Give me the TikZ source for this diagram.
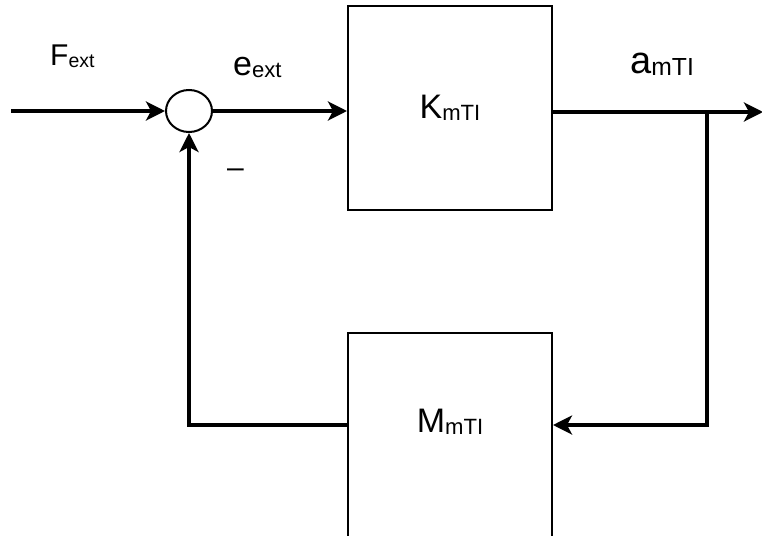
\documentclass[tikz,border=0pt]{standalone}
\usepackage{fontspec}
\setmainfont{Liberation Sans}
\usetikzlibrary{arrows.meta,shapes.geometric}

\newcommand{\sig}[3]{\fontsize{#3}{#3}\selectfont #1\raisebox{-2pt}{\fontsize{0.65\dimexpr#3\relax}{1}\selectfont #2}}

\begin{document}
\begin{tikzpicture}[x=1pt,y=-1pt,
  block/.style={draw,line width=2pt,minimum width=204pt,minimum height=204pt,inner sep=0pt},
  sumnode/.style={draw,ellipse,line width=2pt,minimum width=46pt,minimum height=42pt,inner sep=0pt},
  arr/.style={line width=4pt,-{Stealth[length=19pt,width=19pt,inset=5pt]}},
  tag/.style={anchor=base west,inner sep=0pt}]
\useasboundingbox (0,0) rectangle (762,535);
% blocks
\node[block] (kbox) at (450,108) {\sig{K}{mTI}{34pt}};
\node[block,text depth=28pt] (mbox) at (450,435) {\sig{M}{mTI}{34pt}};
\node[sumnode] (sum) at (189,111) {};
% free ends
\coordinate (in) at (11,111);
\coordinate (out) at (763,112);
\coordinate (br) at (707,112);
\coordinate (back) at (707,425);
% wires
\draw[arr] (in) -- (sum.west);
\draw[arr] (sum.east) -- (sum.east -| kbox.west);
\draw[arr] (kbox.east |- br) -- (out);
\draw[arr] (br) -- (back) -- (back -| mbox.east);
\draw[arr] (back -| mbox.west) -| (sum.south);
% labels
\node[tag] (fext) at (50,65) {\sig{F}{ext}{30pt}};
\node[tag] (eext) at (233,75) {\sig{e}{ext}{34pt}};
\node[tag] (amti) at (630,73) {\sig{a}{mTI}{38pt}};
\node[tag] (minus) at (227,177) {\fontsize{30pt}{30pt}\selectfont –};
\end{tikzpicture}
\end{document}
